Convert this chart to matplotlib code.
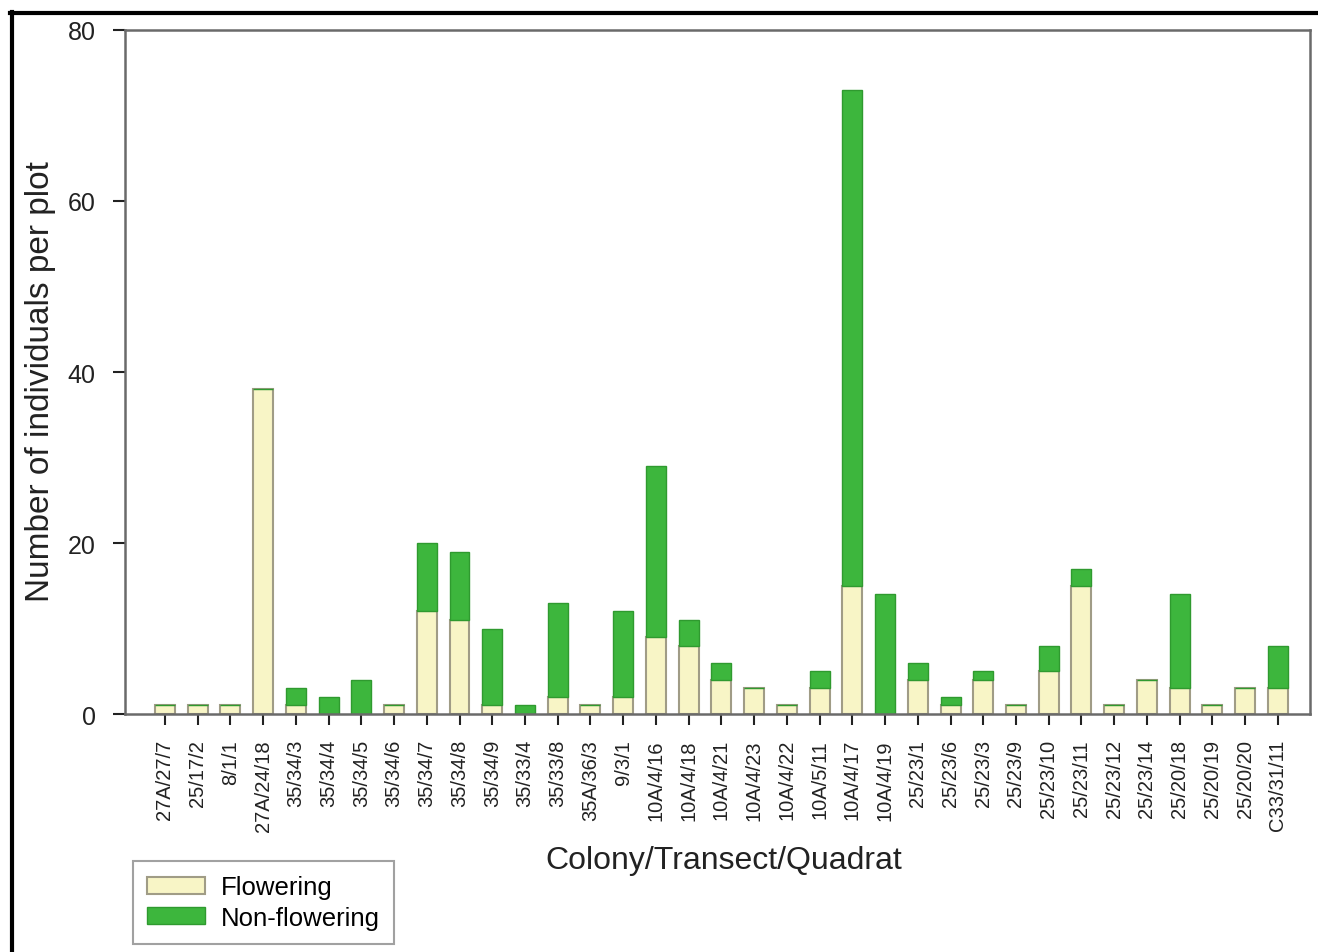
import matplotlib
matplotlib.use("Agg")
import matplotlib.pyplot as plt
from matplotlib.lines import Line2D
import numpy as np

plt.rcParams['font.family'] = ['Liberation Sans', 'DejaVu Sans']

# Plot identifiers (colony/transect/quadrat)
plots = ["27A/27/7", "25/17/2", "8/1/1", "27A/24/18", "35/34/3", "35/34/4",
         "35/34/5", "35/34/6", "35/34/7", "35/34/8", "35/34/9", "35/33/4",
         "35/33/8", "35A/36/3", "9/3/1", "10A/4/16", "10A/4/18", "10A/4/21",
         "10A/4/23", "10A/4/22", "10A/5/11", "10A/4/17", "10A/4/19", "25/23/1",
         "25/23/6", "25/23/3", "25/23/9", "25/23/10", "25/23/11", "25/23/12",
         "25/23/14", "25/20/18", "25/20/19", "25/20/20", "C33/31/11"]

flowering = [1, 1, 1, 38, 1, 0, 0, 1, 12, 11, 1, 0, 2, 1, 2, 9, 8, 4,
             3, 1, 3, 15, 0, 4, 1, 4, 1, 5, 15, 1, 4, 3, 1, 3, 3]
non_flowering = [0, 0, 0, 0, 2, 2, 4, 0, 8, 8, 9, 1, 11, 0, 10, 20, 3, 2,
                 0, 0, 2, 58, 14, 2, 1, 1, 0, 3, 2, 0, 0, 11, 0, 0, 5]

y_ticks = [0, 20, 40, 60, 80]

fig = plt.figure(figsize=(13.18, 9.53), dpi=100)
ax = fig.add_axes([0.0948, 0.2497, 0.8991, 0.7178])

x = np.arange(len(plots))
w = 0.61
ax.bar(x, flowering, width=w, color="#f8f5c6", edgecolor="#a09c86",
       linewidth=1.5, label="Flowering", zorder=2)
ax.bar(x, non_flowering, width=w, bottom=flowering, color="#3db63d",
       edgecolor="#2f9a2f", linewidth=1.0, label="Non-flowering", zorder=2)

ax.set_xlim(-1.22, len(plots) - 0.02)
ax.set_ylim(0, 80)
ax.set_yticks(y_ticks)
ax.set_xticks(x)
ax.set_xticklabels(plots, rotation=90, fontsize=14.5, color="#222222")
ax.tick_params(axis='y', labelsize=18, colors="#222222", length=9,
               width=1.5, pad=12, direction='out')
ax.tick_params(axis='x', length=8, width=1.5, pad=10, direction='out',
               colors="#222222")

for s in ax.spines.values():
    s.set_color("#6a6a6a")
    s.set_linewidth(1.8)

ax.set_xlabel("Colony/Transect/Quadrat", fontsize=23, color="#222222")
ax.xaxis.set_label_coords(0.505, -0.192)
ax.set_ylabel("Number of individuals per plot", fontsize=24, color="#222222")
ax.yaxis.set_label_coords(-0.058, 0.488)

leg = fig.legend(loc="lower left", bbox_to_anchor=(0.1009, 0.0084),
                 fontsize=18.5, frameon=True, fancybox=False,
                 edgecolor="#8a8a8a", handlelength=2.25, handleheight=0.62,
                 handletextpad=0.62, labelspacing=0.25, borderpad=0.55,
                 borderaxespad=0.0)
leg.get_frame().set_linewidth(1.5)

# black frame lines along top and left of the figure
fig.add_artist(Line2D([10 / 1318, 1.0], [1 - 14 / 953, 1 - 14 / 953],
                      transform=fig.transFigure, color="black", linewidth=3))
fig.add_artist(Line2D([11.5 / 1318, 11.5 / 1318], [0.0, 1 - 12.5 / 953],
                      transform=fig.transFigure, color="black", linewidth=3))

fig.savefig("out.png", dpi=100)
